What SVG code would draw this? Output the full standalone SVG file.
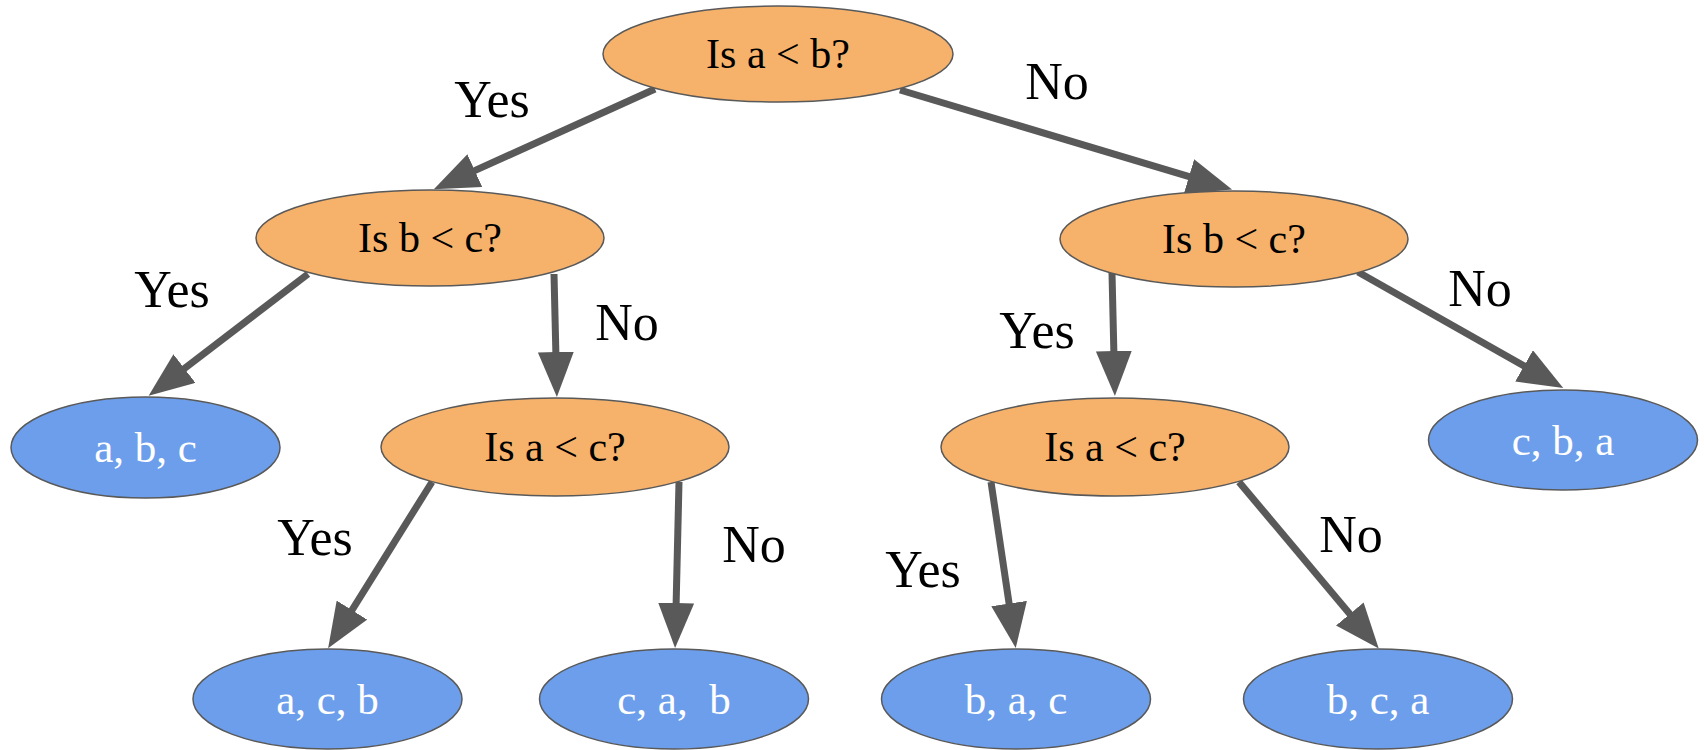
<svg xmlns="http://www.w3.org/2000/svg" width="1704" height="750" viewBox="0 0 1704 750">
  <style>
    .decision { fill: #F6B26B; stroke: #595959; stroke-width: 1.5; }
    .leaf { fill: #6D9EEB; stroke: #595959; stroke-width: 1.5; }
    .qtext { font-family: "Liberation Serif", "DejaVu Serif", serif; font-size: 42px; fill: #000000; text-anchor: middle; }
    .ltext { font-family: "Liberation Serif", "DejaVu Serif", serif; font-size: 43px; fill: #FFFFFF; text-anchor: middle; }
    .edge { fill: none; stroke: #595959; stroke-width: 7; marker-end: url(#head); }
    .elabel { font-family: "Liberation Serif", "DejaVu Serif", serif; font-size: 52px; fill: #000000; text-anchor: middle; }
  </style>
  <defs>
    <marker id="head" viewBox="0 0 45 36" refX="2" refY="18" markerWidth="45" markerHeight="36" markerUnits="userSpaceOnUse" orient="auto">
      <path d="M0,0 L45,18 L0,36 z" fill="#595959"/>
    </marker>
  </defs>

  <!-- connectors -->
  <g id="connectors">
    <path class="edge" d="M655,89 L473,171.4"/>
    <path class="edge" d="M900,90 L1190.9,177.1"/>
    <path class="edge" d="M308,274 L182.8,369.7"/>
    <path class="edge" d="M554,274 L555.9,354"/>
    <path class="edge" d="M1112,273 L1113.9,353"/>
    <path class="edge" d="M1358,272 L1525.8,366.9"/>
    <path class="edge" d="M432,482 L350.9,611.8"/>
    <path class="edge" d="M679,482 L676.1,605"/>
    <path class="edge" d="M991,482 L1009.4,605.5"/>
    <path class="edge" d="M1239,482 L1351.1,615.5"/>
  </g>

  <!-- connector labels -->
  <g id="edge-labels">
    <text class="elabel" x="492" y="117">Yes</text>
    <text class="elabel" x="1057" y="99">No</text>
    <text class="elabel" x="172" y="307">Yes</text>
    <text class="elabel" x="627" y="340">No</text>
    <text class="elabel" x="1037" y="348">Yes</text>
    <text class="elabel" x="1480" y="306">No</text>
    <text class="elabel" x="315" y="555">Yes</text>
    <text class="elabel" x="754" y="562">No</text>
    <text class="elabel" x="923" y="587">Yes</text>
    <text class="elabel" x="1351" y="552">No</text>
  </g>

  <!-- decision nodes -->
  <g id="q-ab">
    <ellipse class="decision" cx="778" cy="54" rx="175" ry="48"/>
    <text class="qtext" x="778" y="68">Is a &lt; b?</text>
  </g>
  <g id="q-bc-left">
    <ellipse class="decision" cx="430" cy="238" rx="174" ry="48"/>
    <text class="qtext" x="430" y="252">Is b &lt; c?</text>
  </g>
  <g id="q-bc-right">
    <ellipse class="decision" cx="1234" cy="239" rx="174" ry="48"/>
    <text class="qtext" x="1234" y="253">Is b &lt; c?</text>
  </g>
  <g id="q-ac-left">
    <ellipse class="decision" cx="555" cy="447" rx="174" ry="49"/>
    <text class="qtext" x="555" y="461">Is a &lt; c?</text>
  </g>
  <g id="q-ac-right">
    <ellipse class="decision" cx="1115" cy="447" rx="174" ry="49"/>
    <text class="qtext" x="1115" y="461">Is a &lt; c?</text>
  </g>

  <!-- result nodes -->
  <g id="r-abc">
    <ellipse class="leaf" cx="145.5" cy="447.5" rx="134.5" ry="50.5"/>
    <text class="ltext" x="145.5" y="462">a, b, c</text>
  </g>
  <g id="r-cba">
    <ellipse class="leaf" cx="1563" cy="440" rx="134.5" ry="50"/>
    <text class="ltext" x="1563" y="455">c, b, a</text>
  </g>
  <g id="r-acb">
    <ellipse class="leaf" cx="327.5" cy="699" rx="134.5" ry="50"/>
    <text class="ltext" x="327.5" y="714">a, c, b</text>
  </g>
  <g id="r-cab">
    <ellipse class="leaf" cx="674" cy="699" rx="134.5" ry="50"/>
    <text class="ltext" x="674" y="714" xml:space="preserve">c, a,  b</text>
  </g>
  <g id="r-bac">
    <ellipse class="leaf" cx="1016" cy="699" rx="134.5" ry="50"/>
    <text class="ltext" x="1016" y="714">b, a, c</text>
  </g>
  <g id="r-bca">
    <ellipse class="leaf" cx="1378" cy="699" rx="134.5" ry="50"/>
    <text class="ltext" x="1378" y="714">b, c, a</text>
  </g>
</svg>
